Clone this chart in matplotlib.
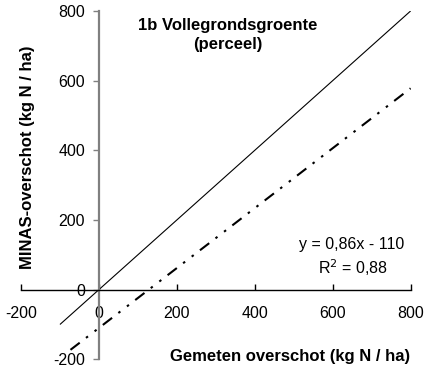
import matplotlib
matplotlib.use("Agg")
import matplotlib.pyplot as plt
import numpy as np

plt.rcParams['font.family'] = ['Liberation Sans', 'DejaVu Sans']

# Data
ref_x = [-100, 800]          # 1:1 line
ref_y = [-100, 800]
fit_x = [-73, 800]           # regression line
slope = 0.86
intercept = -110
fit_y = [slope * v + intercept for v in fit_x]
xticks = [-200, 0, 200, 400, 600, 800]
yticks = [-200, 0, 200, 400, 600, 800]
title = "1b Vollegrondsgroente\n(perceel)"
xlabel = "Gemeten overschot (kg N / ha)"
ylabel = "MINAS-overschot (kg N / ha)"
eq_text = "y = 0,86x - 110"
r2_text = "R$^2$ = 0,88"

fig = plt.figure(figsize=(4.24, 3.71), dpi=100)
ax = fig.add_axes([0.0495, 0.0315, 0.9189, 0.9389])
ax.set_xlim(-200, 800)
ax.set_ylim(-200, 800)

ax.plot(ref_x, ref_y, color='black', lw=0.8, solid_capstyle='butt')
ax.plot(fit_x, fit_y, color='black', lw=1.5,
        linestyle=(0, (5.6, 3.8, 1.2, 4.0, 1.2, 3.8)))

for s in ['top', 'right']:
    ax.spines[s].set_visible(False)
ax.spines['left'].set_position(('data', 0))
ax.spines['bottom'].set_position(('data', 0))
ax.spines['left'].set_color('#808080')
ax.spines['left'].set_linewidth(1.6)
ax.spines['bottom'].set_color('black')
ax.spines['bottom'].set_linewidth(1.0)

ax.set_xticks(xticks)
ax.set_yticks(yticks)
ax.set_xticklabels([str(v) for v in xticks])
ax.set_yticklabels([str(v) for v in yticks])
ax.tick_params(axis='x', direction='in', length=4, width=1, color='black',
               pad=11.5, labelsize=11.5)
ax.tick_params(axis='y', direction='out', length=4, width=1, color='#808080',
               pad=6, labelsize=11.5)

ax.set_facecolor('white')

fig.text(228 / 424, 1 - 35 / 371, title, ha='center', va='center',
         fontsize=12, fontweight='bold', linespacing=1.3)
fig.text(290 / 424, 1 - 357 / 371, xlabel, ha='center', va='center',
         fontsize=12, fontweight='bold')
fig.text(28 / 424, 1 - 157 / 371, ylabel, ha='center', va='center',
         fontsize=12, fontweight='bold', rotation=90)
fig.text(352 / 424, 1 - 244 / 371, eq_text, ha='center', va='center',
         fontsize=11.5)
fig.text(353 / 424, 1 - 268 / 371, r2_text, ha='center', va='center',
         fontsize=11.5)

fig.savefig("out.png", dpi=100, facecolor='white')
